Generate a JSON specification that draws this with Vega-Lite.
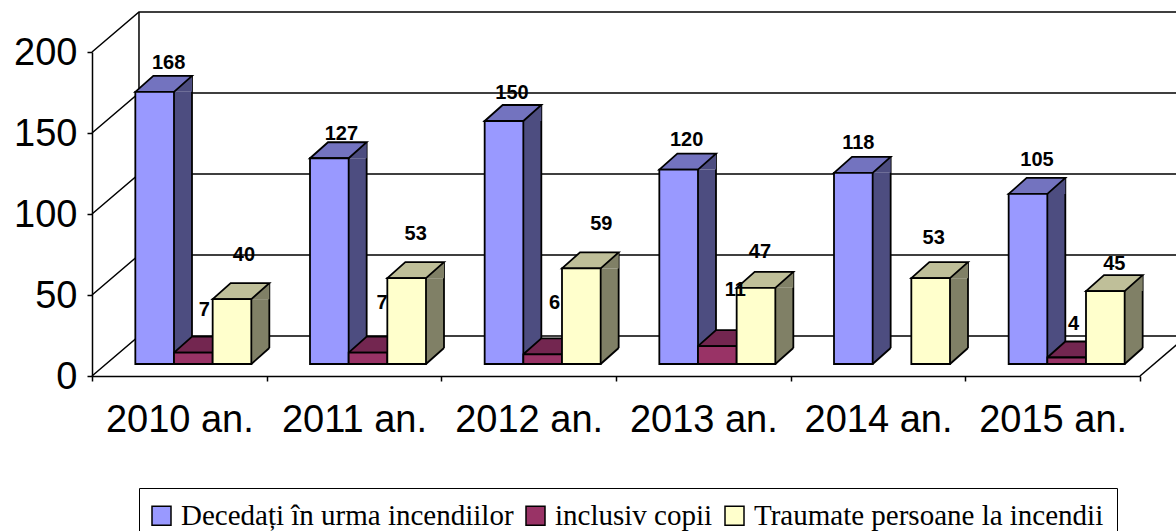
{"$schema":"https://vega.github.io/schema/vega-lite/v6.json","width":1048,"height":324,"autosize":{"type":"none"},"padding":{"left":92,"top":52,"right":36,"bottom":155},"background":"white","config":{"view":{"stroke":null},"text":{"font":"Liberation Sans","fontWeight":"bold","fontSize":20,"color":"#000000"}},
"datasets":{"bars":[
{"year":"2010 an.","series":"Decedați în urma incendiilor","value":168},{"year":"2010 an.","series":"inclusiv copii","value":7},{"year":"2010 an.","series":"Traumate persoane la incendii","value":40},
{"year":"2011 an.","series":"Decedați în urma incendiilor","value":127},{"year":"2011 an.","series":"inclusiv copii","value":7},{"year":"2011 an.","series":"Traumate persoane la incendii","value":53},
{"year":"2012 an.","series":"Decedați în urma incendiilor","value":150},{"year":"2012 an.","series":"inclusiv copii","value":6},{"year":"2012 an.","series":"Traumate persoane la incendii","value":59},
{"year":"2013 an.","series":"Decedați în urma incendiilor","value":120},{"year":"2013 an.","series":"inclusiv copii","value":11},{"year":"2013 an.","series":"Traumate persoane la incendii","value":47},
{"year":"2014 an.","series":"Decedați în urma incendiilor","value":118},{"year":"2014 an.","series":"Traumate persoane la incendii","value":53},
{"year":"2015 an.","series":"Decedați în urma incendiilor","value":105},{"year":"2015 an.","series":"inclusiv copii","value":4},{"year":"2015 an.","series":"Traumate persoane la incendii","value":45}],
"walls":[
{"edge":"g0","i":1,"depth":0,"level":0},{"edge":"g0","i":2,"depth":0.269,"level":24.7},{"edge":"g0","i":3,"depth":6.5,"level":24.7},
{"edge":"g50","i":1,"depth":0,"level":50},{"edge":"g50","i":2,"depth":0.269,"level":74.7},{"edge":"g50","i":3,"depth":6.5,"level":74.7},
{"edge":"g100","i":1,"depth":0,"level":100},{"edge":"g100","i":2,"depth":0.269,"level":124.7},{"edge":"g100","i":3,"depth":6.5,"level":124.7},
{"edge":"g150","i":1,"depth":0,"level":150},{"edge":"g150","i":2,"depth":0.269,"level":174.7},{"edge":"g150","i":3,"depth":6.5,"level":174.7},
{"edge":"g200","i":1,"depth":0,"level":200},{"edge":"g200","i":2,"depth":0.269,"level":224.7},{"edge":"g200","i":3,"depth":6.5,"level":224.7},
{"edge":"back","i":1,"depth":0.269,"level":24.7},{"edge":"back","i":2,"depth":0.269,"level":224.7},
{"edge":"right","i":1,"depth":6,"level":0},{"edge":"right","i":2,"depth":6.269,"level":24.7}]},
"resolve":{"scale":{"x":"independent"}},
"layer":[
{"data":{"name":"walls"},"mark":{"type":"line","stroke":"#000000","strokeWidth":1.5,"clip":false},"encoding":{"x":{"field":"depth","type":"quantitative","scale":{"domain":[0,6],"nice":false,"zero":false},"axis":null},"y":{"field":"level","type":"quantitative","scale":{"domain":[0,200],"nice":false},"axis":{"title":null,"values":[0,50,100,150,200],"labelFont":"Liberation Sans","labelFontSize":38,"labelColor":"#000000","labelPadding":10,"labelOffset":1,"domainColor":"#000000","domainWidth":1.5,"tickColor":"#000000","tickWidth":1.5,"tickSize":5,"grid":false}},"detail":{"field":"edge"},"order":{"field":"i"}}},
{"data":{"name":"bars"},
"resolve":{"scale":{"xOffset":"independent"}},
"encoding":{"x":{"field":"year","type":"nominal","scale":{"domain":["2010 an.","2011 an.","2012 an.","2013 an.","2014 an.","2015 an."],"padding":0},"axis":{"title":null,"labelAngle":0,"labelFont":"Liberation Sans","labelFontSize":38,"labelColor":"#000000","labelPadding":20,"labelOverlap":false,"labelLimit":0,"domainColor":"#000000","domainWidth":1.5,"tickColor":"#000000","tickWidth":1.5,"tickSize":5,"tickBand":"extent","grid":false}},
"y":{"field":"value","type":"quantitative","scale":{"domain":[0,200],"nice":false},"axis":{"title":null,"values":[0,50,100,150,200],"labelFont":"Liberation Sans","labelFontSize":38,"labelColor":"#000000","labelPadding":10,"labelOffset":1,"domainColor":"#000000","domainWidth":1.5,"tickColor":"#000000","tickWidth":1.5,"tickSize":5,"grid":false}}},
"layer":[
{"mark":{"type":"bar","width":18,"yOffset":-12,"y2Offset":-28},"encoding":{"xOffset":{"field":"series","type":"nominal","scale":{"domain":["Decedați în urma incendiilor","inclusiv copii","Traumate persoane la incendii"],"range":[71.66,187.66],"padding":0}},"y2":{"datum":0},"color":{"condition":[{"test":"datum.series=='inclusiv copii'","value":"#4d1a33"},{"test":"datum.series=='Traumate persoane la incendii'","value":"#808066"}],"value":"#4d4d80"}}},
{"mark":{"type":"rule","stroke":"#000000","strokeWidth":1.8,"yOffset":-28,"y2Offset":-28},"encoding":{"xOffset":{"field":"series","type":"nominal","scale":{"domain":["Decedați în urma incendiilor","inclusiv copii","Traumate persoane la incendii"],"range":[80.66,196.66],"padding":0}},"y2":{"datum":0}}},
{"encoding":{"xOffset":{"field":"series","type":"nominal","scale":{"domain":["Decedați în urma incendiilor","inclusiv copii","Traumate persoane la incendii"],"range":[43.33,159.33],"padding":0}}},
"layer":[
{"mark":{"type":"point","filled":true,"opacity":1,"size":4,"shape":"M19.33 -12L37.33 -28L37.33 -12Z"},"encoding":{"color":{"condition":[{"test":"datum.series=='inclusiv copii'","value":"#4d1a33"},{"test":"datum.series=='Traumate persoane la incendii'","value":"#808066"}],"value":"#4d4d80"}}},
{"mark":{"type":"point","filled":true,"opacity":1,"size":4,"shape":"M19.33 -12L37.33 -28L19.33 -28Z"},"encoding":{"y":{"datum":0},"color":{"condition":[{"test":"datum.series=='inclusiv copii'","value":"#4d1a33"},{"test":"datum.series=='Traumate persoane la incendii'","value":"#808066"}],"value":"#4d4d80"}}},
{"mark":{"type":"point","filled":false,"opacity":1,"size":4,"stroke":"#000000","strokeWidth":1.8,"shape":"M19.33 -12L37.33 -28"},"encoding":{"y":{"datum":0}}},
{"mark":{"type":"point","filled":true,"opacity":1,"size":4,"stroke":"#000000","strokeWidth":1.8,"shape":"M-19.33 -12L-1.33 -28L37.33 -28L19.33 -12Z"},"encoding":{"fill":{"condition":[{"test":"datum.series=='inclusiv copii'","value":"#732650"},{"test":"datum.series=='Traumate persoane la incendii'","value":"#bfbf99"}],"value":"#7373bf"}}},
{"mark":{"type":"bar","yOffset":-12,"y2Offset":-12,"stroke":"#000000","strokeWidth":1.8},"encoding":{"y2":{"datum":0},"color":{"field":"series","type":"nominal","scale":{"domain":["Decedați în urma incendiilor","inclusiv copii","Traumate persoane la incendii"],"range":["#9999ff","#993366","#ffffcc"]},"legend":{"title":null,"orient":"none","legendX":47,"legendY":436,"direction":"horizontal","columns":3,"padding":13,"strokeColor":"#000000","fillColor":"#ffffff","symbolType":"square","symbolSize":361,"symbolOffset":-5,"symbolStrokeColor":"#000000","symbolStrokeWidth":1.5,"labelFont":"Liberation Serif","labelFontSize":29,"labelColor":"#000000","labelOffset":5,"labelLimit":0,"columnPadding":9}}}},
{"transform":[{"filter":"datum.value==168"}],"mark":{"type":"text","dx":14,"dy":-41},"encoding":{"text":{"field":"value"}}},
{"transform":[{"filter":"datum.value==127"}],"mark":{"type":"text","dx":12,"dy":-36},"encoding":{"text":{"field":"value"}}},
{"transform":[{"filter":"datum.value==150"}],"mark":{"type":"text","dx":8,"dy":-40},"encoding":{"text":{"field":"value"}}},
{"transform":[{"filter":"datum.value==120"}],"mark":{"type":"text","dx":8,"dy":-42},"encoding":{"text":{"field":"value"}}},
{"transform":[{"filter":"datum.value==118"}],"mark":{"type":"text","dx":5,"dy":-42},"encoding":{"text":{"field":"value"}}},
{"transform":[{"filter":"datum.value==105"}],"mark":{"type":"text","dx":9,"dy":-46},"encoding":{"text":{"field":"value"}}},
{"transform":[{"filter":"datum.value==7&&datum.year=='2010 an.'"}],"mark":{"type":"text","dx":11,"dy":-55},"encoding":{"text":{"field":"value"}}},
{"transform":[{"filter":"datum.value==7&&datum.year=='2011 an.'"}],"mark":{"type":"text","dx":14,"dy":-62},"encoding":{"text":{"field":"value"}}},
{"transform":[{"filter":"datum.value==6"}],"mark":{"type":"text","dx":12,"dy":-63},"encoding":{"text":{"field":"value"}}},
{"transform":[{"filter":"datum.value==11"}],"mark":{"type":"text","dx":18,"dy":-68},"encoding":{"text":{"field":"value"}}},
{"transform":[{"filter":"datum.value==4"}],"mark":{"type":"text","dx":7,"dy":-46},"encoding":{"text":{"field":"value"}}},
{"transform":[{"filter":"datum.value==40"}],"mark":{"type":"text","dx":12,"dy":-56},"encoding":{"text":{"field":"value"}}},
{"transform":[{"filter":"datum.value==53&&datum.year=='2011 an.'"}],"mark":{"type":"text","dx":9,"dy":-56},"encoding":{"text":{"field":"value"}}},
{"transform":[{"filter":"datum.value==59"}],"mark":{"type":"text","dx":20,"dy":-56},"encoding":{"text":{"field":"value"}}},
{"transform":[{"filter":"datum.value==47"}],"mark":{"type":"text","dx":4,"dy":-48},"encoding":{"text":{"field":"value"}}},
{"transform":[{"filter":"datum.value==53&&datum.year=='2014 an.'"}],"mark":{"type":"text","dx":3,"dy":-52},"encoding":{"text":{"field":"value"}}},
{"transform":[{"filter":"datum.value==45"}],"mark":{"type":"text","dx":9,"dy":-39},"encoding":{"text":{"field":"value"}}}
]}]}]}
